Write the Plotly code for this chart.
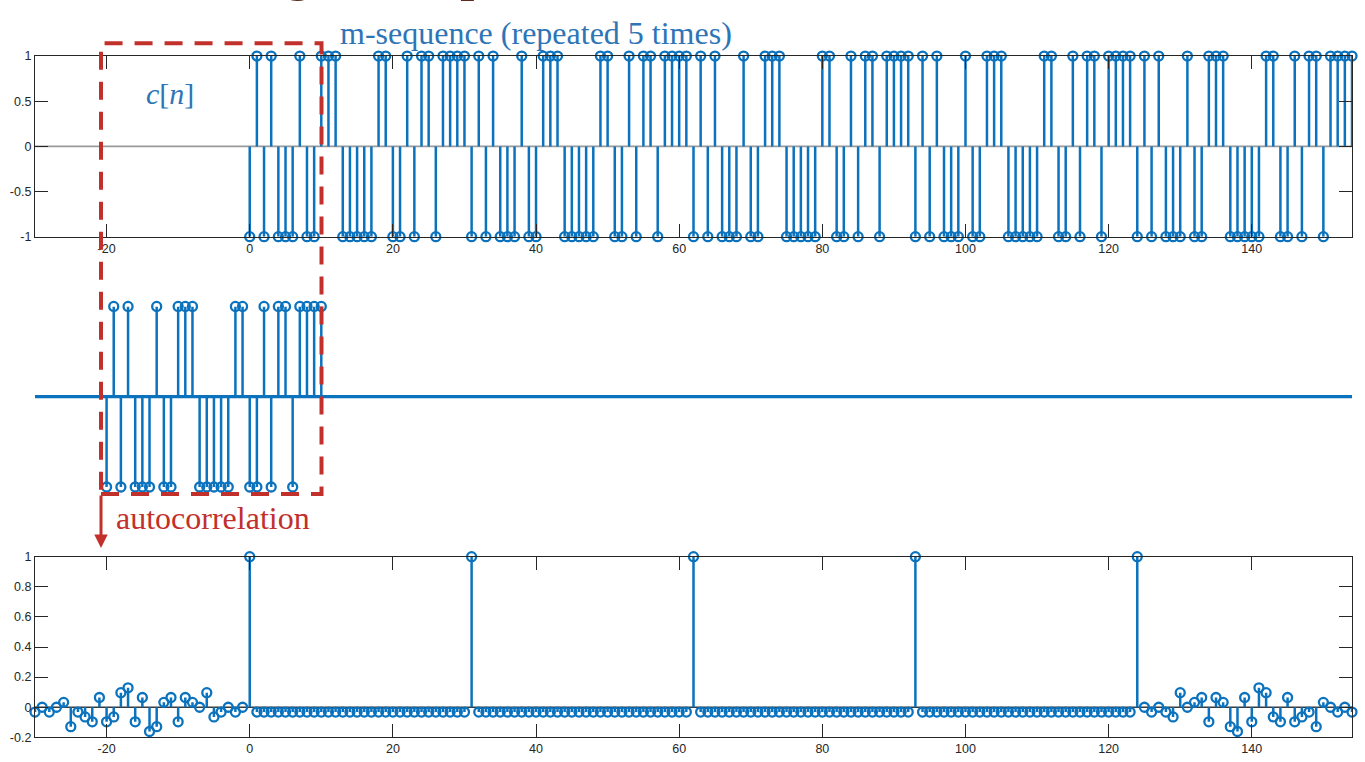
import numpy as np
import plotly.graph_objects as go

W, H = 1365, 762

# ---- data -------------------------------------------------------------
# one period (31 chips) of the m-sequence, as +/-1 values
m_sequence = [-1, 1, -1, 1, -1, -1, -1, 1, -1, -1, 1, 1, 1, -1, -1, -1,
              -1, -1, 1, 1, -1, -1, 1, -1, 1, 1, -1, 1, 1, 1, 1]
n_repeats = 5            # the top row shows the period repeated 5 times
segment_start = -20      # first index of the single period in the middle row

# autocorrelation values, in units of 1/31
acf_left_lags = list(range(-30, 0))
acf_left_counts = [-1, 0, -1, 0, 1, -4, -1, -2, -3, 2, -3, -2, 3, 4, -3,
                   2, -5, -4, 1, 2, -3, 2, 1, 0, 3, -2, -1, 0, -1, 0]
acf_mid_lags = list(range(0, 125))
acf_peak_lags = [0, 31, 62, 93, 124]
acf_peak_count = 31
acf_floor_count = -1
acf_right_lags = list(range(125, 155))
acf_right_counts = [0, -1, 0, -1, -2, 3, 0, 1, 2, -3, 2, 1, -4, -5, 2,
                    -3, 4, 3, -2, -3, 2, -3, -2, -1, -4, 1, 0, -1, 0, -1]

x_tick_vals = [-20, 0, 20, 40, 60, 80, 100, 120, 140]
x_tick_text = ["-20", "0", "20", "40", "60", "80", "100", "120", "140"]
y_top_vals = [-1, -0.5, 0, 0.5, 1]
y_top_text = ["-1", "-0.5", "0", "0.5", "1"]
y_bot_vals = [-0.2, 0, 0.2, 0.4, 0.6, 0.8, 1]
y_bot_text = ["-0.2", "0", "0.2", "0.4", "0.6", "0.8", "1"]

# ---- derived series ----------------------------------------------------
L = len(m_sequence)
c_n = np.tile(m_sequence, n_repeats)
n_top = np.arange(len(c_n))
n_mid = np.arange(segment_start, segment_start + L)

acf_mid_counts = [acf_peak_count if k in acf_peak_lags else acf_floor_count
                  for k in acf_mid_lags]
acf_lags = acf_left_lags + acf_mid_lags + acf_right_lags
acf_vals = np.array(acf_left_counts + acf_mid_counts + acf_right_counts) / L

# ---- style -------------------------------------------------------------
BLUE = "#0b72bd"
RED = "#c2302c"
TEXT_BLUE = "#2e75b6"
AXIS = "#262626"
SERIF = "Liberation Serif"
SANS = "Liberation Sans"


def px(x):
    return x / W


def py(y):
    return 1 - y / H


fig = go.Figure()


def stem(x, y, xa, ya, lw=2.5):
    xs, ys = [], []
    for xi, yi in zip(x, y):
        xs += [xi, xi, None]
        ys += [0, yi, None]
    fig.add_trace(go.Scatter(x=xs, y=ys, mode="lines", xaxis=xa, yaxis=ya,
                             line=dict(color=BLUE, width=lw),
                             hoverinfo="skip", cliponaxis=False))
    fig.add_trace(go.Scatter(x=list(x), y=list(y), mode="markers",
                             xaxis=xa, yaxis=ya, cliponaxis=False,
                             marker=dict(symbol="circle-open", size=9,
                                         color=BLUE,
                                         line=dict(width=2.3, color=BLUE))))


x_lo, x_hi = -30, 154

# top row: repeated m-sequence
fig.add_trace(go.Scatter(x=[x_lo, x_hi], y=[0, 0], mode="lines",
                         xaxis="x", yaxis="y",
                         line=dict(color="#9a9a9a", width=1.6),
                         hoverinfo="skip"))
stem(n_top, c_n, "x", "y")

# middle row: a single period with its own baseline
fig.add_trace(go.Scatter(x=[x_lo, x_hi], y=[0, 0], mode="lines",
                         xaxis="x2", yaxis="y2",
                         line=dict(color=BLUE, width=3.3),
                         hoverinfo="skip", cliponaxis=False))
stem(n_mid, m_sequence, "x2", "y2")

# bottom row: autocorrelation
fig.add_trace(go.Scatter(x=[x_lo, x_hi], y=[0, 0], mode="lines",
                         xaxis="x3", yaxis="y3",
                         line=dict(color="#3a3a3a", width=1.3),
                         hoverinfo="skip"))
stem(acf_lags, acf_vals, "x3", "y3")

x_dom = [px(35), px(1352)]
tick_font = dict(family=SANS, size=12.5, color=AXIS)
axis_common = dict(showline=True, mirror="ticks", linecolor=AXIS,
                   linewidth=1.3, ticks="inside", ticklen=13,
                   tickwidth=1.3, tickcolor=AXIS, showgrid=False,
                   zeroline=False, tickfont=tick_font)

fig.update_layout(
    width=W, height=H,
    margin=dict(l=0, r=0, t=0, b=0),
    paper_bgcolor="white", plot_bgcolor="white",
    showlegend=False,
    xaxis=dict(domain=x_dom, range=[x_lo, x_hi], anchor="y",
               tickvals=x_tick_vals, ticktext=x_tick_text, **axis_common),
    yaxis=dict(domain=[py(234), py(50)], range=[-1, 1], anchor="x",
               tickvals=y_top_vals, ticktext=y_top_text, **axis_common),
    xaxis2=dict(domain=x_dom, range=[x_lo, x_hi], anchor="y2",
                visible=False),
    yaxis2=dict(domain=[py(489), py(305)], range=[-1, 1], anchor="x2",
                visible=False),
    xaxis3=dict(domain=x_dom, range=[x_lo, x_hi], anchor="y3",
                tickvals=x_tick_vals, ticktext=x_tick_text, **axis_common),
    yaxis3=dict(domain=[py(744), py(560)], range=[-0.2, 1], anchor="x3",
                tickvals=y_bot_vals, ticktext=y_bot_text, **axis_common),
)

# dashed frame around the single period and the arrow down to the result
fig.add_shape(type="rect", xref="paper", yref="paper",
              x0=px(101), x1=px(321.5), y0=py(496), y1=py(37),
              line=dict(color=RED, width=4, dash="18px,12px"),
              fillcolor="rgba(0,0,0,0)", layer="above")
fig.add_annotation(x=px(101), y=py(551), xref="paper", yref="paper",
                   ax=0, ay=-54, axref="pixel", ayref="pixel",
                   text="", showarrow=True, arrowhead=2, arrowsize=0.9,
                   arrowwidth=3, arrowcolor=RED)

# labels (the large heading runs off the top edge of the page)
fig.add_annotation(x=px(139), y=py(-4), xref="paper", yref="paper",
                   xanchor="left", yanchor="bottom", showarrow=False,
                   text="Timing the repeats",
                   font=dict(family=SERIF, size=59, color="#5a2a1c"))
fig.add_annotation(x=px(536), y=py(26), xref="paper", yref="paper",
                   xanchor="center", yanchor="middle", showarrow=False,
                   text="m-sequence (repeated 5 times)",
                   font=dict(family=SERIF, size=32, color=TEXT_BLUE))
fig.add_annotation(x=px(170), y=py(88), xref="paper", yref="paper",
                   xanchor="center", yanchor="middle", showarrow=False,
                   text="<i>c</i>[<i>n</i>]",
                   font=dict(family=SERIF, size=30, color=TEXT_BLUE))
fig.add_annotation(x=px(213), y=py(521), xref="paper", yref="paper",
                   xanchor="center", yanchor="middle", showarrow=False,
                   text="autocorrelation",
                   font=dict(family=SERIF, size=32, color=RED))

fig.write_html("out.html")
